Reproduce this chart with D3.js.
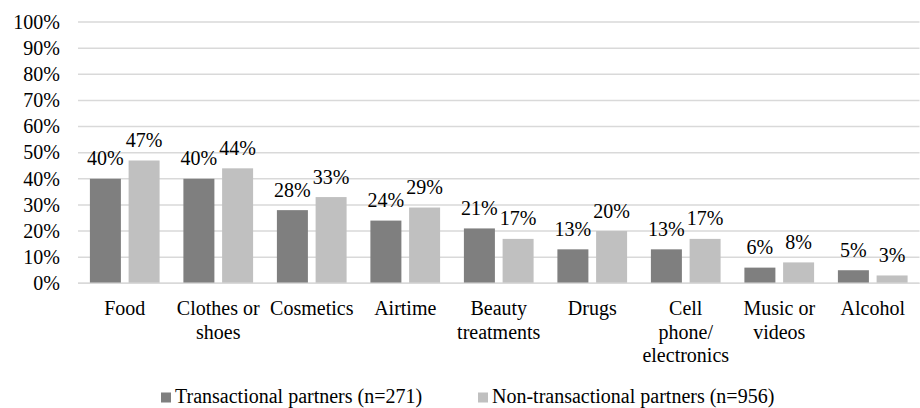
<!DOCTYPE html>
<html>
<head>
<meta charset="utf-8">
<script src="https://cdn.jsdelivr.net/npm/d3@7"></script>
<style>
  svg text, svg tspan { font-family: "Liberation Serif", serif !important; }
</style>
</head>
<body style="margin:0;background:#fff">
<svg id="chart" width="920" height="408" style="display:block"></svg>
<script>
const categories = ["Food", "Clothes or shoes", "Cosmetics", "Airtime", "Beauty treatments", "Drugs", "Cell phone/electronics", "Music or videos", "Alcohol"];
const categoryLines = [["Food"], ["Clothes or", "shoes"], ["Cosmetics"], ["Airtime"], ["Beauty", "treatments"], ["Drugs"], ["Cell", "phone/", "electronics"], ["Music or", "videos"], ["Alcohol"]];
const seriesNames = ["Transactional partners (n=271)", "Non-transactional partners (n=956)"];
const transactional = [40, 40, 28, 24, 21, 13, 13, 6, 5];
const nonTransactional = [47, 44, 33, 29, 17, 20, 17, 8, 3];
const yTicks = [0, 10, 20, 30, 40, 50, 60, 70, 80, 90, 100];
const colors = ["#7f7f7f", "#c0c0c0"];

(function () {
const FONT = "'Liberation Serif', serif";
const svg = d3.select("#chart").attr("font-family", "Liberation Serif").style("font-family", FONT, "important");
const fontSize = 20;
const plotLeft = 78, plotRight = 919.5, plotTop = 22, plotBottom = 283.3;

const x0 = d3.scaleBand().domain(categories).range([plotLeft, plotRight]).paddingInner(0).paddingOuter(0);
const step = x0.step();
const outer = 11.9;
const x1 = d3.scaleBand().domain(seriesNames).range([outer, step - outer]).paddingInner(7.7 / 38.7).paddingOuter(0);
const y = d3.scaleLinear().domain([0, 100]).range([plotBottom, plotTop]);

function txt(sel) {
  return sel.attr("font-family", "Liberation Serif").style("font-family", FONT, "important")
    .attr("font-size", fontSize).attr("fill", "#000");
}

// gridlines
svg.append("g").selectAll("line").data(yTicks).join("line")
  .attr("x1", plotLeft).attr("x2", plotRight)
  .attr("y1", d => y(d)).attr("y2", d => y(d))
  .attr("stroke", "#d9d9d9").attr("stroke-width", 1.5);

// y tick labels
txt(svg.append("g").selectAll("text").data(yTicks).join("text"))
  .attr("x", 60).attr("y", d => y(d)).attr("dy", "0.34em")
  .attr("text-anchor", "end")
  .text(d => d + "%");

const rows = categories.map((c, i) => ({ cat: c, values: [transactional[i], nonTransactional[i]] }));

const groups = svg.append("g").selectAll("g").data(rows).join("g")
  .attr("transform", d => `translate(${x0(d.cat)},0)`);

groups.selectAll("rect").data(d => d.values.map((v, k) => ({ s: seriesNames[k], v, k }))).join("rect")
  .attr("x", d => x1(d.s)).attr("width", x1.bandwidth())
  .attr("y", d => y(d.v)).attr("height", d => y(0) - y(d.v))
  .attr("fill", d => colors[d.k]);

txt(groups.selectAll("text.val").data(d => d.values.map((v, k) => ({ s: seriesNames[k], v, k }))).join("text"))
  .attr("class", "val")
  .attr("x", d => x1(d.s) + x1.bandwidth() / 2)
  .attr("y", d => y(d.v) - 13.5)
  .attr("text-anchor", "middle")
  .text(d => d.v + "%");

// bottom axis line
svg.append("line").attr("x1", plotLeft).attr("x2", plotRight).attr("y1", y(0)).attr("y2", y(0))
  .attr("stroke", "#d9d9d9").attr("stroke-width", 1.5);

// category labels
const catG = txt(svg.append("g").selectAll("text").data(categories).join("text"))
  .attr("text-anchor", "middle");
catG.each(function(d, i) {
  const t = d3.select(this);
  categoryLines[i].forEach((line, j) => {
    t.append("tspan").attr("x", x0(d) + step / 2).attr("y", 315 + j * 23.5).text(line);
  });
});

// legend
const legendX = [161, 478];
const lg = svg.append("g").selectAll("g").data(seriesNames).join("g");
lg.append("rect").attr("x", (d, i) => legendX[i]).attr("y", 392.5).attr("width", 10).attr("height", 10)
  .attr("fill", (d, i) => colors[i]);
txt(lg.append("text")).attr("x", (d, i) => legendX[i] + 14).attr("y", 402.5)
  .text(d => d);
})();
</script>
</body>
</html>
